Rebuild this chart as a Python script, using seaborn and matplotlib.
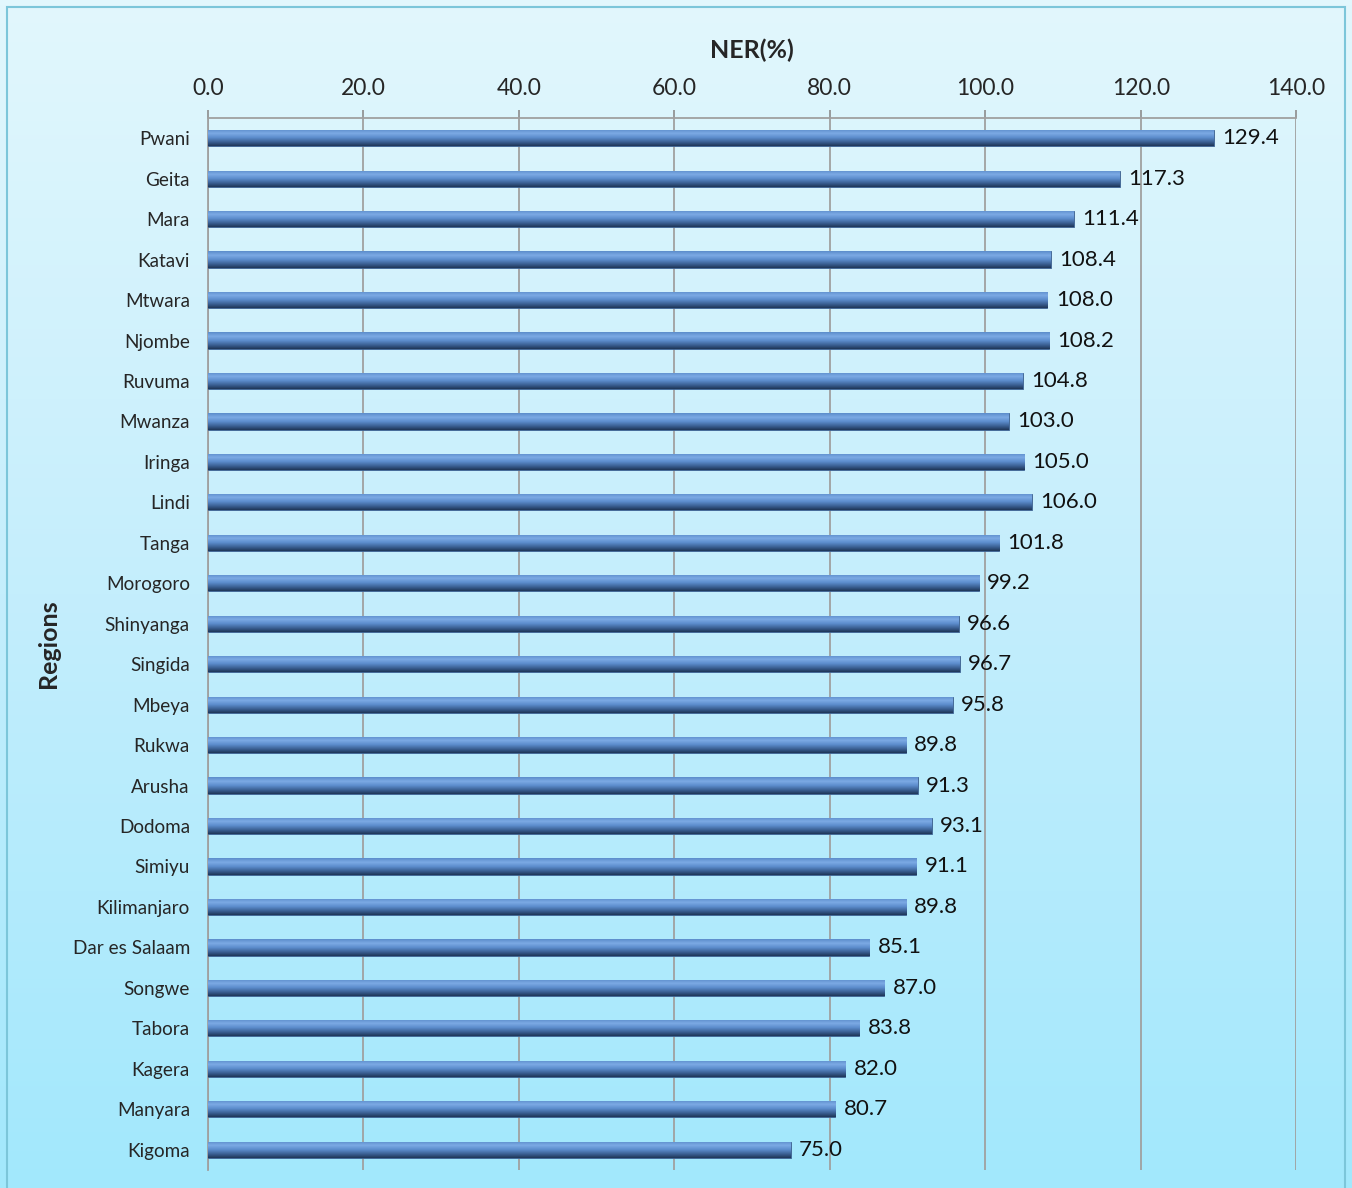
import matplotlib
matplotlib.use("Agg")
import matplotlib.pyplot as plt
import seaborn as sns
import numpy as np
import pandas as pd
from matplotlib.colors import LinearSegmentedColormap
from matplotlib.patches import Rectangle
from matplotlib.ticker import FixedLocator

regions = ["Pwani", "Geita", "Mara", "Katavi", "Mtwara", "Njombe", "Ruvuma",
           "Mwanza", "Iringa", "Lindi", "Tanga", "Morogoro", "Shinyanga",
           "Singida", "Mbeya", "Rukwa", "Arusha", "Dodoma", "Simiyu",
           "Kilimanjaro", "Dar es Salaam", "Songwe", "Tabora", "Kagera",
           "Manyara", "Kigoma"]
ner = [129.4, 117.3, 111.4, 108.4, 108.0, 108.2, 104.8, 103.0, 105.0, 106.0,
       101.8, 99.2, 96.6, 96.7, 95.8, 89.8, 91.3, 93.1, 91.1, 89.8, 85.1,
       87.0, 83.8, 82.0, 80.7, 75.0]
x_ticks = [0, 20, 40, 60, 80, 100, 120, 140]

df = pd.DataFrame({"Region": regions, "NER": ner})

sns.set_style("white")
plt.rcParams["font.family"] = ["Lato", "DejaVu Sans"]

fig = plt.figure(figsize=(13.52, 11.88), dpi=100)

# background gradient for the whole chart area
bg = fig.add_axes([0, 0, 1, 1], zorder=-10)
grad = np.linspace(0, 1, 256).reshape(-1, 1)
bg_cmap = LinearSegmentedColormap.from_list("bg", ["#E2F7FD", "#C4EEFC", "#A2E8FC"])
bg.imshow(grad, aspect="auto", cmap=bg_cmap, extent=[0, 1, 0, 1], origin="upper")
bg.set_axis_off()
fig.patches.append(Rectangle((0.0052, -0.01), 0.9897, 1.004, transform=fig.transFigure,
                             fill=False, edgecolor="#7CC6DA", linewidth=1.5))

ax = fig.add_axes([0.1538, 0.0152, 0.8049, 0.8855])
ax.patch.set_alpha(0)

sns.barplot(data=df, x="NER", y="Region", orient="h", width=0.4,
            color="#4F81BD", ax=ax, zorder=3)

# give each bar a cylinder-like vertical gradient (light on top, dark below)
bar_cmap = LinearSegmentedColormap.from_list(
    "bar", [(0, "#1E3556"), (0.2, "#36598A"), (0.5, "#5C8DCD"),
            (0.75, "#7CAAE4"), (1, "#5B8CCB")])
for p in ax.patches:
    x0, y0 = p.get_x(), p.get_y()
    w, h = p.get_width(), p.get_height()
    im = ax.imshow(grad, aspect="auto", cmap=bar_cmap,
                   extent=[x0, x0 + w, y0 + h, y0], origin="lower", zorder=4)
    im.set_clip_path(p)
    p.set_edgecolor("#3A5F8F")
    p.set_linewidth(0.6)

for c in ax.containers:
    ax.bar_label(c, fmt="%.1f", padding=6, fontsize=16, color="#111111", zorder=6)

ax.set_xlim(0, 140)
ax.set_ylim(len(regions) - 0.5, -0.5)
ax.xaxis.tick_top()
ax.xaxis.set_label_position("top")
ax.set_xticks(x_ticks)
ax.set_xticklabels([f"{t:.1f}" for t in x_ticks], fontsize=16.5)
ax.set_xlabel("NER(%)", fontsize=18, fontweight="bold", labelpad=14)
ax.set_ylabel("Regions", fontsize=18, fontweight="bold", labelpad=9)
ax.tick_params(axis="y", which="major", length=0, labelsize=13.6, pad=13)
ax.yaxis.set_minor_locator(FixedLocator(np.arange(-0.5, len(regions), 1.0)))
ax.tick_params(axis="y", which="minor", length=6, color="#8C8C8C", width=1.2)
ax.tick_params(axis="x", length=6, color="#8C8C8C", width=1.2, pad=8)

ax.grid(axis="x", color="#A0A0A0", linewidth=1.3, zorder=0)
ax.set_axisbelow(True)
for side in ["right", "bottom"]:
    ax.spines[side].set_visible(False)
for side in ["left", "top"]:
    ax.spines[side].set_color("#A0A0A0")
    ax.spines[side].set_linewidth(1.3)

fig.savefig("out.png", dpi=100)
